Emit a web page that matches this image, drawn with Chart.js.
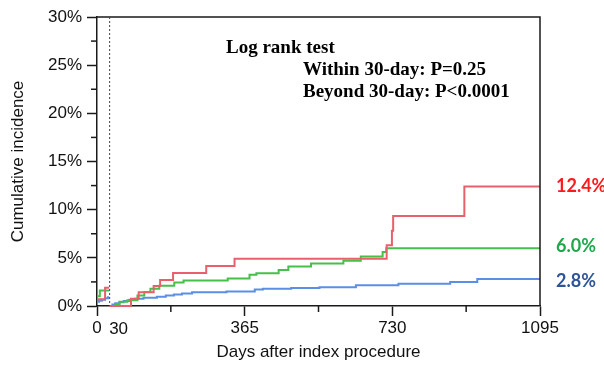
<!DOCTYPE html>
<html>
<head>
<meta charset="utf-8">
<script src="https://cdn.jsdelivr.net/npm/chart.js@4/dist/chart.umd.min.js"></script>
<style>
  html, body { margin: 0; padding: 0; background: #ffffff; }
  #wrap { width: 604px; height: 366px; position: relative; }
</style>
</head>
<body>
<div id="wrap"><canvas id="c" width="604" height="366"></canvas></div>
<script>
// ---- Data (days after index procedure, cumulative incidence %) ----
const xTickValues = [0, 182.5, 365, 547.5, 730, 912.5, 1095];
const xTickLabels = ['0', '', '365', '', '730', '', '1095'];
const yTickValues = [0, 2.5, 5, 7.5, 10, 12.5, 15, 17.5, 20, 22.5, 25, 27.5, 30];
const yTickLabels = ['0%', '', '5%', '', '10%', '', '15%', '', '20%', '', '25%', '', '30%'];

const redEarlyDays = [0, 20, 30];
const redEarlyVals = [0.7, 1.9, 1.9];
const greenEarlyDays = [0, 7, 30];
const greenEarlyVals = [1.0, 1.6, 1.6];
const blueEarlyDays = [0, 5, 12, 20, 27, 30];
const blueEarlyVals = [0.45, 0.55, 0.65, 0.8, 0.9, 0.9];

const redLateDays = [30, 84, 103, 140, 156, 188, 270, 340, 716, 729, 732, 908, 1095];
const redLateVals = [0, 0.75, 1.42, 2.08, 2.7, 3.42, 4.15, 4.9, 6.3, 7.8, 9.35, 12.4, 12.4];
const greenLateDays = [30, 45, 56, 75, 100, 117, 132, 154, 191, 214, 323, 377, 394, 449, 473, 529, 609, 652, 706, 715, 1095];
const greenLateVals = [0, 0.2, 0.45, 0.6, 1.1, 1.45, 1.8, 2.1, 2.45, 2.65, 2.85, 3.25, 3.4, 3.75, 4.1, 4.4, 4.7, 5.15, 5.6, 6.0, 6.0];
const blueLateDays = [30, 38, 45, 55, 66, 80, 95, 115, 148, 170, 190, 210, 235, 320, 390, 410, 480, 550, 640, 745, 873, 940, 1095];
const blueLateVals = [0, 0.15, 0.28, 0.4, 0.52, 0.65, 0.75, 0.86, 0.97, 1.08, 1.2, 1.3, 1.42, 1.5, 1.7, 1.8, 1.88, 1.95, 2.15, 2.3, 2.5, 2.8, 2.8];

const endLabels = ['12.4%', '6.0%', '2.8%'];
const endLabelValues = [12.4, 6.0, 2.8];
const landmarkDay = 30;
const annotationLines = ['Log rank test', 'Within 30-day: P=0.25', 'Beyond 30-day: P<0.0001'];

// ---- Styles ----
const RED = '#e8606c', GREEN = '#45c048', BLUE = '#5b8fe6';
const endLabelColors = ['#ff1a1a', '#1fa84a', '#2f5597'];

function pts(days, vals) { return days.map((d, i) => ({ x: d, y: vals[i] })); }
function ds(days, vals, color, order) {
  return { data: pts(days, vals), borderColor: color, borderWidth: 2, pointRadius: 0,
           stepped: true, fill: false, order: order, clip: 4 };
}

const AX = '#1a1a1a';
const SANS = '"Liberation Sans", Arial, sans-serif';

const decor = {
  id: 'decor',
  afterDraw(chart) {
    const ctx = chart.ctx, xs = chart.scales.x, ys = chart.scales.y, a = chart.chartArea;
    ctx.save();
    ctx.strokeStyle = AX; ctx.lineWidth = 1.5;
    // minor ticks
    yTickValues.forEach((v, i) => {
      if (yTickLabels[i] === '') {
        const y = ys.getPixelForValue(v);
        ctx.beginPath(); ctx.moveTo(a.left - 6, y); ctx.lineTo(a.left, y); ctx.stroke();
      }
    });
    xTickValues.forEach((v, i) => {
      if (xTickLabels[i] === '') {
        const x = xs.getPixelForValue(v);
        ctx.beginPath(); ctx.moveTo(x, a.bottom); ctx.lineTo(x, a.bottom + 6); ctx.stroke();
      }
    });
    // top & right frame
    ctx.beginPath(); ctx.moveTo(a.left, a.top); ctx.lineTo(a.right, a.top); ctx.lineTo(a.right, a.bottom); ctx.stroke();
    // landmark dotted line
    const xl = xs.getPixelForValue(landmarkDay);
    ctx.strokeStyle = '#444'; ctx.lineWidth = 1; ctx.setLineDash([2, 2]);
    ctx.beginPath(); ctx.moveTo(xl + 0.5, a.top); ctx.lineTo(xl + 0.5, a.bottom); ctx.stroke();
    ctx.setLineDash([]);
    // "30" label
    ctx.fillStyle = '#111'; ctx.font = '17px ' + SANS;
    ctx.textAlign = 'left'; ctx.textBaseline = 'middle';
    ctx.fillText(String(landmarkDay), xl, 329);
    // annotation
    ctx.fillStyle = '#000'; ctx.font = 'bold 19px "Liberation Serif", "Times New Roman", serif';
    ctx.textAlign = 'left'; ctx.textBaseline = 'middle';
    ctx.fillText(annotationLines[0], 226, 48);
    ctx.fillText(annotationLines[1], 303, 70);
    ctx.fillText(annotationLines[2], 303, 92);
    // end labels
    ctx.font = 'bold 18px Lato, "Open Sans", sans-serif';
    endLabels.forEach((t, i) => {
      ctx.fillStyle = endLabelColors[i];
      let y = ys.getPixelForValue(endLabelValues[i]);
      if (i === 1) y -= 2;
      if (i === 2) y += 2;
      ctx.fillText(t, 556, y);
    });
    ctx.restore();
  }
};

new Chart(document.getElementById('c'), {
  type: 'line',
  data: {
    datasets: [
      ds(redEarlyDays, redEarlyVals, RED, 0),
      ds(redLateDays, redLateVals, RED, 0),
      ds(greenEarlyDays, greenEarlyVals, GREEN, 1),
      ds(greenLateDays, greenLateVals, GREEN, 1),
      ds(blueEarlyDays, blueEarlyVals, BLUE, 2),
      ds(blueLateDays, blueLateVals, BLUE, 2)
    ]
  },
  options: {
    responsive: false,
    animation: false,
    events: [],
    layout: { padding: { top: 17, right: 64, left: 0, bottom: 0 } },
    plugins: { legend: { display: false }, tooltip: { enabled: false } },
    scales: {
      x: {
        type: 'linear', min: 0, max: 1095,
        afterBuildTicks: s => { s.ticks = xTickValues.map(v => ({ value: v })); },
        afterFit: s => { s.height = 60; },
        ticks: {
          autoSkip: false, maxRotation: 0, padding: 2, color: '#111',
          font: { size: 17, family: SANS },
          callback: (v) => { const i = xTickValues.indexOf(v); return i >= 0 ? xTickLabels[i] : ''; }
        },
        grid: { display: true, drawOnChartArea: false, drawTicks: true, tickLength: 10, tickWidth: 1.5,
                tickColor: c => (c.tick && xTickLabels[xTickValues.indexOf(c.tick.value)] !== '') ? AX : 'rgba(0,0,0,0)' },
        border: { display: true, color: AX, width: 1.5 },
        title: { display: true, text: 'Days after index procedure', color: '#111',
                 font: { size: 17, family: SANS }, padding: { top: 3, bottom: 3 } }
      },
      y: {
        type: 'linear', min: 0, max: 30,
        afterBuildTicks: s => { s.ticks = yTickValues.map(v => ({ value: v })); },
        afterFit: s => { s.width = 97; },
        ticks: {
          autoSkip: false, padding: 5, color: '#111',
          font: { size: 17, family: SANS },
          callback: (v) => { const i = yTickValues.indexOf(v); return i >= 0 ? yTickLabels[i] : ''; }
        },
        grid: { display: true, drawOnChartArea: false, drawTicks: true, tickLength: 10, tickWidth: 1.5,
                tickColor: c => (c.tick && yTickLabels[yTickValues.indexOf(c.tick.value)] !== '') ? AX : 'rgba(0,0,0,0)' },
        border: { display: true, color: AX, width: 1.5 },
        title: { display: true, text: 'Cumulative incidence', color: '#111',
                 font: { size: 17, family: SANS }, padding: { top: 8, bottom: 4 } }
      }
    }
  },
  plugins: [decor]
});
</script>
</body>
</html>
